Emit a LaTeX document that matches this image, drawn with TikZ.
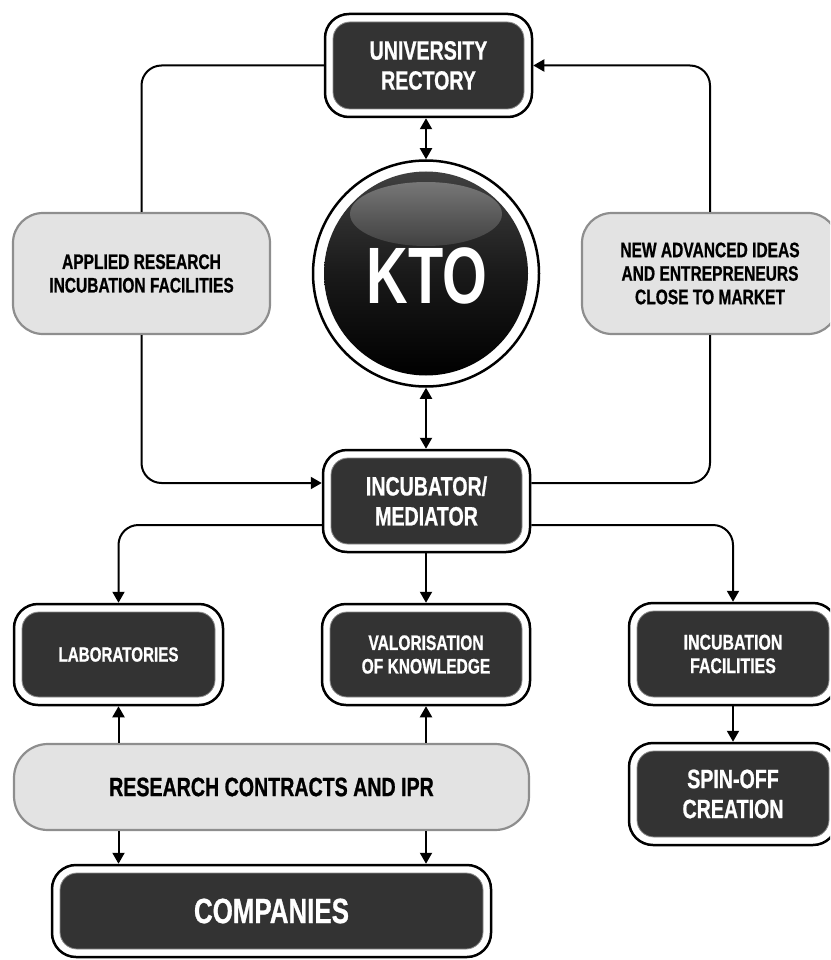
\documentclass[tikz,border=0pt]{standalone}
\usepackage{fontspec}
\setmainfont{Liberation Sans}[FakeStretch=0.74, FakeBold=0.8]
\newfontfamily\ktofont{Liberation Sans}[FakeStretch=0.72]
\usetikzlibrary{arrows.meta,calc}
\definecolor{darkfill}{HTML}{333333}
\definecolor{greyfill}{HTML}{E3E3E3}
\definecolor{greyline}{HTML}{8E8E8E}
\tikzset{
  darkbox/.style={draw=black, line width=2.5pt, fill=white, rounded corners=24pt,
    inner sep=0pt, align=center, text=white,
    path picture={\filldraw[fill=darkfill, draw=black!45, line width=0.8pt, rounded corners=17pt]
      ([xshift=8pt,yshift=-8pt]path picture bounding box.north west) rectangle
      ([xshift=-8pt,yshift=8pt]path picture bounding box.south east);}},
  greybox/.style={draw=greyline, line width=2.2pt, fill=greyfill, rounded corners=30pt,
    inner sep=0pt, align=center, text=black},
  conn/.style={draw=black, line width=2pt, rounded corners=20pt},
  arr/.style={-{Triangle[length=11pt,width=12pt]}},
  darr/.style={{Triangle[length=11pt,width=12pt]}-{Triangle[length=11pt,width=12pt]}},
  fbig/.style={font=\bfseries\fontsize{26.5}{30}\selectfont},
  fmid/.style={font=\bfseries\fontsize{21}{23.5}\selectfont},
}
\begin{document}
\begin{tikzpicture}[x=1pt,y=-1pt]
\useasboundingbox (0,0) rectangle (830,960);
\clip (0,0) rectangle (830,960);

% nodes
\node[darkbox, fbig, minimum width=207pt, minimum height=103pt] (rect) at (428.5,65.5) {UNIVERSITY\\RECTORY};
\node[circle, draw=black, line width=2.5pt, fill=white, minimum size=226pt, inner sep=0pt] (kto) at (426,273.5) {};
\shade[top color=black!75, bottom color=black, middle color=black!90] (kto.center) circle[radius=102pt];
\shade[top color=black!52, bottom color=black!74, opacity=0.95] (426,214) ellipse[x radius=76pt, y radius=32pt];
\node[text=white, font=\ktofont\bfseries\fontsize{80}{80}\selectfont, inner sep=0pt] (ktotext) at (427,276) {KTO};

\node[greybox, fmid, minimum width=257pt, minimum height=121pt] (lbox) at (141.5,273.5) {APPLIED RESEARCH\\INCUBATION FACILITIES};
\node[greybox, fmid, minimum width=256pt, minimum height=121pt] (rbox) at (710,273.5) {NEW ADVANCED IDEAS\\AND ENTREPRENEURS\\CLOSE TO MARKET};

\node[darkbox, fbig, minimum width=207pt, minimum height=102pt] (inc) at (426.5,501) {INCUBATOR/\\MEDIATOR};

\node[darkbox, font=\bfseries\fontsize{20.5}{23.5}\selectfont, minimum width=209pt, minimum height=101pt] (labs) at (118.5,654.5) {LABORATORIES};
\node[darkbox, fmid, minimum width=208pt, minimum height=101pt] (valor) at (426,654.5) {VALORISATION\\OF KNOWLEDGE};
\node[darkbox, font=\bfseries\fontsize{21.5}{23.5}\selectfont, minimum width=208pt, minimum height=102pt] (incfac) at (733,654) {INCUBATION\\FACILITIES};
\node[darkbox, fbig, minimum width=208pt, minimum height=102pt] (spin) at (733,794) {SPIN-OFF\\CREATION};

\node[greybox, font=\bfseries\fontsize{26.5}{28}\selectfont, rounded corners=34pt, minimum width=515pt, minimum height=86pt] (research) at (271.5,787) {RESEARCH CONTRACTS AND IPR};
\node[darkbox, font=\bfseries\fontsize{35}{38}\selectfont, minimum width=439pt, minimum height=92pt] (companies) at (271.5,911) {COMPANIES};

% connectors
\draw[conn] (rect.west) -| (lbox.north);
\draw[conn, arr] (lbox.south) |- ([yshift=18pt]inc.west);
\draw[conn] ([yshift=18pt]inc.east) -| (rbox.south);
\draw[conn, arr] (rbox.north) |- (rect.east);
\draw[conn, darr] (kto.north |- rect.south) -- (kto.north);
\draw[conn, darr] (kto.south) -- (kto.south |- inc.north);
\draw[conn, arr] ([yshift=-24pt]inc.west) -| (labs.north);
\draw[conn, arr] (inc.south -| valor.north) -- (valor.north);
\draw[conn, arr] ([yshift=-24pt]inc.east) -| (incfac.north);
\draw[conn, arr] (incfac.south) -- (spin.north);
\draw[conn, arr] (research.north -| labs.south) -- (labs.south);
\draw[conn, arr] (research.north -| valor.south) -- (valor.south);
\draw[conn, arr] (research.south -| labs.south) -- (companies.north -| labs.south);
\draw[conn, arr] (research.south -| valor.south) -- (companies.north -| valor.south);
\end{tikzpicture}
\end{document}
